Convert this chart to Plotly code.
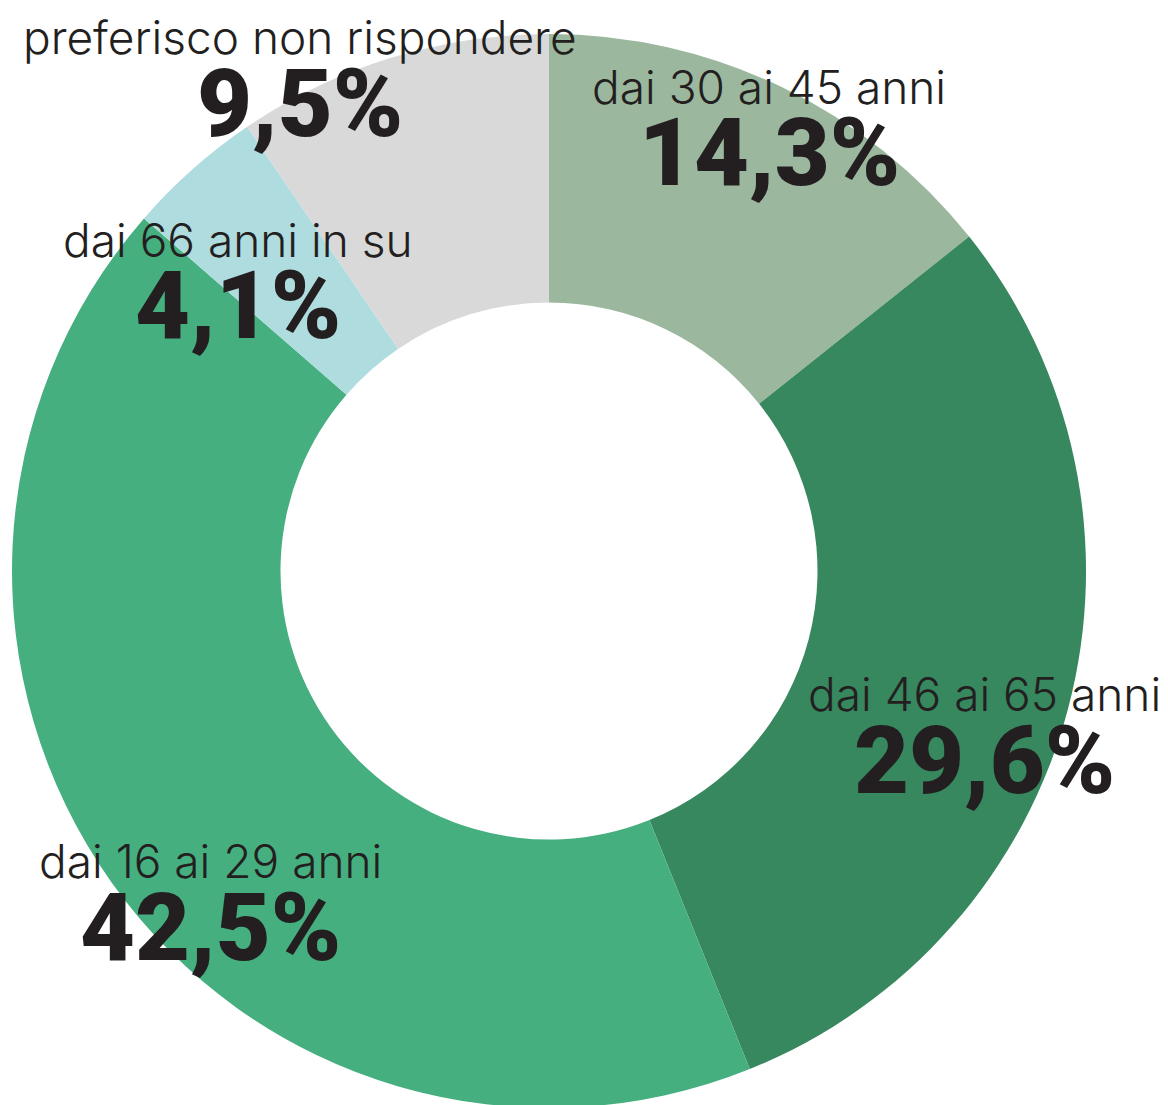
import plotly.graph_objects as go

categories = ["dai 30 ai 45 anni", "dai 46 ai 65 anni", "dai 16 ai 29 anni",
              "dai 66 anni in su", "preferisco non rispondere"]
values = [14.3, 29.6, 42.5, 4.1, 9.5]
value_labels = ["14,3%", "29,6%", "42,5%", "4,1%", "9,5%"]
colors = ["#9bb89e", "#37875f", "#46af80", "#afdcdf", "#d9d9d9"]

# label centers in page pixels (x, y of the category line)
label_pos = [(769, 87), (984, 694), (210, 861), (238, 240), (300, 37)]

OFF = 8  # page body margin
W, H = 1168, 1105
cx, cy, R = 549 - OFF, 571 - OFF, 537

fig = go.Figure(go.Pie(
    labels=categories, values=values, sort=False, direction="clockwise",
    rotation=0, hole=0.5, marker=dict(colors=colors, line=dict(width=0)),
    textinfo="none", hoverinfo="label+value", showlegend=False,
    domain=dict(x=[(cx - R) / W, (cx + R) / W],
                y=[(H - cy - R) / H, (H - cy + R) / H]),
))

ann = []
for cat, vl, (px, py) in zip(categories, value_labels, label_pos):
    fx, fy = px - OFF, py - OFF
    ann.append(dict(x=fx / W, y=1 - fy / H, xref="paper", yref="paper",
                    text=cat, showarrow=False, xanchor="center", yanchor="middle",
                    font=dict(family="Inter", size=46, color="#231f20", weight=300)))
    ann.append(dict(x=fx / W, y=1 - (fy + 66) / H, xref="paper", yref="paper",
                    text=vl, showarrow=False, xanchor="center", yanchor="middle",
                    font=dict(family="Roboto", size=95, color="#231f20", weight=900)))

fig.update_layout(width=W, height=H, margin=dict(l=0, r=0, t=0, b=0),
                  paper_bgcolor="white", plot_bgcolor="white", annotations=ann)
fig.write_html("out.html")
